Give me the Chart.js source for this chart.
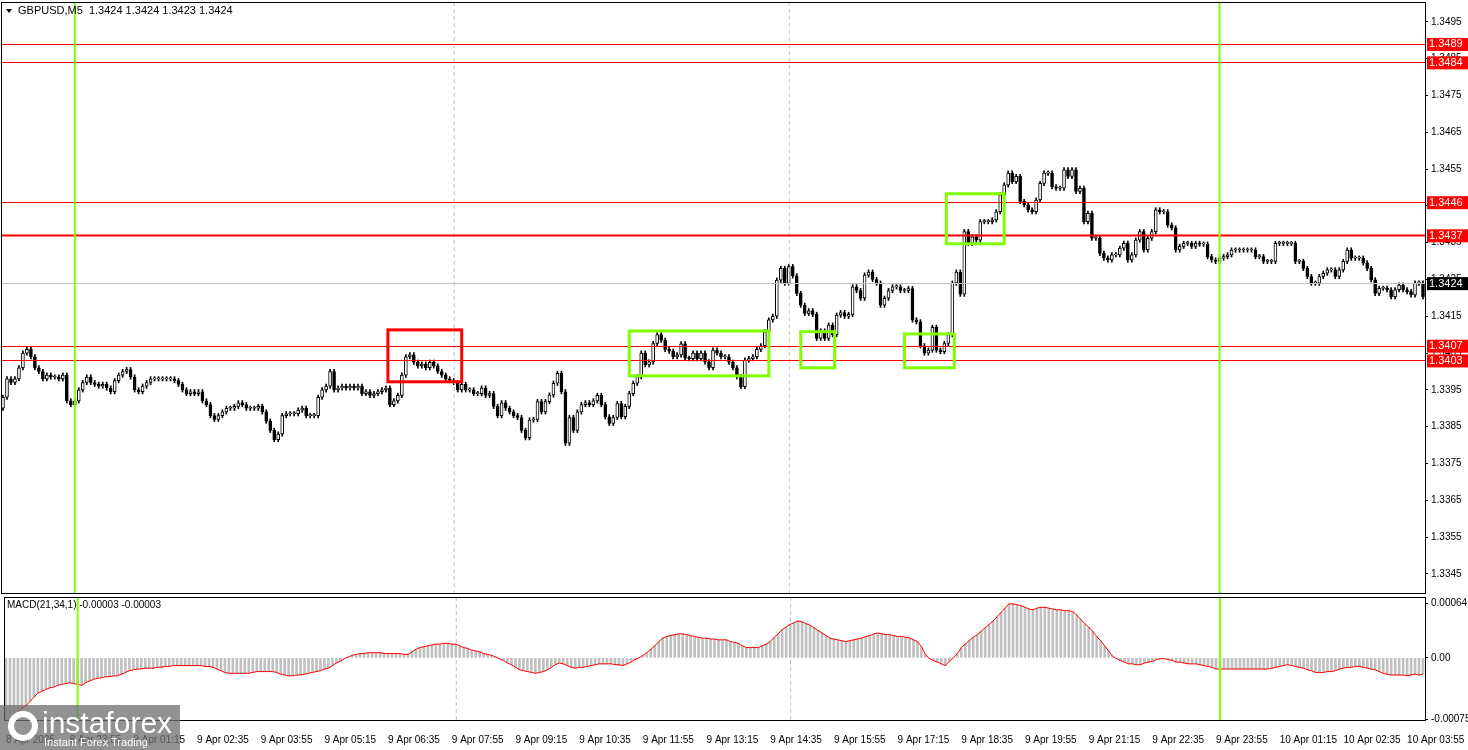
<!DOCTYPE html>
<html>
<head>
<meta charset="utf-8">
<script src="https://cdn.jsdelivr.net/npm/chart.js@4"></script>
<style>
  body { margin: 0; background: #fff; width: 1468px; height: 750px; overflow: hidden; position: relative; font-family: "Liberation Sans", Arial, sans-serif; }
  canvas { position: absolute; left: 0; }
  #main { top: -7px; }
  #macd { top: 588px; }
  #logo { position: absolute; left: 0; top: 705px; width: 180px; height: 45px; background: rgba(110,110,110,0.75); color: #fff; }
  #logo .big { position: absolute; left: 42px; top: 1px; font-size: 30px; letter-spacing: 0px; }
  #logo .small { position: absolute; left: 44px; top: 31px; font-size: 11px; }
  #logo .gear { position: absolute; left: 8px; top: 6px; width: 30px; height: 30px; border-radius: 50%; border: 6px solid #fff; box-sizing: border-box; }
</style>
</head>
<body>
<canvas id="main" width="1468" height="609"></canvas>
<canvas id="macd" width="1468" height="162"></canvas>
<div id="logo"><div class="gear"></div><div class="big">instaforex</div><div class="small">Instant Forex Trading</div></div>
<script>
// closes in pips above 1.3000, one per M5 candle
const closes = [
  393, 398, 397, 398, 401, 405, 406, 404, 401, 400, 398, 399, 398.5, 398.5, 398, 399, 392, 391, 392, 395,
  397, 398.5, 397, 396.5, 396, 396.5, 395.5, 394.5, 397.5, 399, 400, 400.5, 398.5, 395, 394.5, 396, 397, 398, 398, 398,
  398, 398, 398, 397.5, 396.5, 395, 394, 394.5, 394, 394.5, 392, 391, 388, 387, 388, 389, 390, 390, 390.5, 391.5,
  391, 390, 390, 390, 390.5, 389, 386.5, 384, 381.5, 383, 388, 388.5, 388.5, 388.5, 389.5, 390, 388, 388, 388, 393,
  395, 396, 400, 395, 395.5, 396, 395.5, 396, 395.5, 396, 394, 394.5, 393.5, 394, 394.5, 395, 395.5, 391, 392, 393.5,
  399, 404, 404.5, 402.5, 401.5, 402, 401, 402.5, 401.5, 400, 399, 398, 397.5, 397, 395, 396.5, 395, 395, 394, 394,
  395.5, 393.5, 394, 390.5, 388, 391.5, 390, 389, 388, 387.5, 384, 382, 386.8, 387, 391.8, 389, 391.8, 393.6, 396.8, 399.5,
  394.5, 380.5, 387.5, 384, 389, 391, 391.5, 391, 392, 393.5, 391, 387.7, 385.9, 387.5, 391.3, 387.7, 390.5, 394, 396.8, 398.6,
  405, 401.8, 402.6, 407.6, 410, 408.5, 406, 405.5, 404, 404.5, 407.5, 403.6, 403.5, 405, 403.5, 405, 402.6, 401, 405.8, 405,
  404, 404, 402.5, 401, 398.6, 395.9, 403.1, 403.5, 404, 406, 407, 410.8, 414, 415, 424.8, 428, 424, 428.5, 426, 421.2,
  418, 415.8, 416.5, 415.5, 409, 411, 409, 412.6, 410, 415.3, 416, 415, 415.5, 423, 422, 419.9, 426.2, 427, 425, 424,
  418, 419.9, 422, 423, 423, 422, 422, 422.5, 414, 413.5, 407, 405, 405.8, 412, 405.8, 405.4, 407.6, 410, 424, 427,
  421, 438, 434.8, 436.6, 435.7, 440.7, 440.7, 440.7, 441.2, 443.4, 448, 450.7, 453.9, 451.6, 453, 446.2, 445.3, 443.9, 443.4, 446.6,
  451.1, 453.9, 453.9, 450.2, 449.8, 449.8, 454.8, 453, 454.8, 448.9, 449.8, 440.7, 443, 436.2, 436.2, 432.1, 430.8, 430.3, 431.7, 431.7,
  433.5, 434.8, 430.3, 431.7, 435.7, 438, 433, 436.2, 438, 443.9, 443.4, 443.4, 439.8, 439, 433, 434, 434.8, 434.8, 434, 434.8,
  434.6, 434.6, 431.2, 430.3, 429.9, 430.8, 431.2, 431.7, 433, 433, 433, 433, 433, 433, 431.2, 431.2, 429.9, 429.9, 429.9, 434.8,
  434.8, 434.8, 434.8, 434.8, 429.9, 429.9, 428, 425.8, 424, 424, 425.8, 426.7, 427.6, 427.6, 425.8, 427.6, 429.9, 433, 430.8, 430.8,
  430.8, 429.5, 428, 424.9, 421.2, 422.6, 422.6, 422.2, 420.3, 422.2, 423.5, 422.2, 421.7, 420.8, 424, 424, 420.3
];
const firstOpen = 390;

// MACD(21,34,1) histogram, units of 0.00001
const macdVals = [
  -78, -73, -68, -63, -59, -56, -51, -46, -41, -39, -37, -35, -34, -32, -31, -30, -29, -30, -31, -32,
  -29, -27, -25, -24, -23, -22, -22, -21, -21, -19, -17, -15, -14, -13, -13, -12, -12, -12, -11, -11,
  -10, -10, -9, -9, -9, -9, -9, -9, -9, -9, -10, -10, -11, -13, -15, -17, -18, -18, -18, -18,
  -18, -18, -17, -16, -16, -16, -16, -16, -17, -19, -20, -21, -21, -20, -20, -19, -18, -17, -16, -15,
  -13, -12, -9, -6, -4, -1, 1, 3, 4, 5, 5, 6, 6, 6, 6, 5, 5, 5, 5, 5,
  4, 4, 7, 10, 12, 13, 14, 15, 16, 16, 17, 17, 16, 16, 14, 12, 11, 9, 8, 7,
  5, 4, 3, 1, -1, -3, -6, -8, -11, -14, -15, -16, -17, -18, -17, -16, -14, -11, -8, -6,
  -7, -9, -11, -12, -11, -11, -10, -9, -8, -7, -7, -7, -7, -8, -8, -9, -7, -5, -2, 0,
  3, 6, 10, 14, 19, 23, 25, 26, 27, 28, 28, 27, 26, 25, 24, 23, 23, 22, 22, 21,
  21, 21, 19, 18, 17, 14, 12, 12, 12, 12, 14, 16, 19, 24, 28, 33, 36, 39, 41, 43,
  42, 40, 38, 35, 32, 29, 26, 23, 22, 21, 20, 19, 20, 21, 22, 23, 25, 26, 28, 29,
  28, 27, 27, 26, 25, 25, 24, 23, 21, 19, 13, 4, -1, -3, -5, -7, -9, -4, 0, 5,
  12, 16, 20, 24, 27, 31, 35, 39, 43, 48, 53, 58, 63, 63, 62, 61, 59, 57, 56, 58,
  59, 59, 58, 57, 56, 56, 55, 55, 54, 50, 45, 40, 36, 31, 25, 20, 14, 8, 2, -1,
  -3, -5, -7, -7, -8, -8, -6, -5, -4, -2, -1, -1, -2, -3, -5, -5, -6, -7, -7, -7,
  -8, -9, -10, -11, -13, -13, -13, -13, -13, -13, -13, -13, -13, -13, -13, -13, -13, -13, -12, -11,
  -10, -9, -8, -9, -10, -11, -12, -14, -15, -17, -17, -17, -16, -16, -15, -13, -12, -11, -11, -10,
  -10, -11, -12, -13, -14, -16, -18, -19, -20, -20, -20, -20, -21, -20, -19, -20, -19
];

// x tick labels: every 16 candles
const xTickLabels = [
  "8 Apr 2025", "8 Apr 23:55", "9 Apr 01:15", "9 Apr 02:35", "9 Apr 03:55", "9 Apr 05:15", "9 Apr 06:35",
  "9 Apr 07:55", "9 Apr 09:15", "9 Apr 10:35", "9 Apr 11:55", "9 Apr 13:15", "9 Apr 14:35", "9 Apr 15:55",
  "9 Apr 17:15", "9 Apr 18:35", "9 Apr 19:55", "9 Apr 21:15", "9 Apr 22:35", "9 Apr 23:55", "10 Apr 01:15",
  "10 Apr 02:35", "10 Apr 03:55"
];
const priceTicks = [1.3345, 1.3355, 1.3365, 1.3375, 1.3385, 1.3395, 1.3405, 1.3415, 1.3425, 1.3435, 1.3445, 1.3455, 1.3465, 1.3475, 1.3485, 1.3495];
const levels = [1.3489, 1.3484, 1.3446, 1.3437, 1.3407, 1.3403];
const lastPrice = 1.3424;
// boxes: [first candle, last candle, top price, bottom price]
const redBoxes = [[96.5, 115, 1.34113, 1.33972]];
const greenBoxes = [[157, 192, 1.34110, 1.33988], [200, 208.5, 1.34108, 1.34010], [226, 238.5, 1.34102, 1.34010], [236.5, 251, 1.34483, 1.34347]];
const greenVLines = [18, 305];
const dashVLines = [113, 197];

const labels = closes.map((_, i) => i);
const toPrice = (p) => 1.3 + p / 10000;
const opens = closes.map((c, i) => (i ? closes[i - 1] : firstOpen));
const bodies = closes.map((c, i) => [toPrice(opens[i]), toPrice(c)]);
const wicks = closes.map((c, i) => [toPrice(Math.min(c, opens[i]) - 0.6), toPrice(Math.max(c, opens[i]) + 0.6)]);
const bodyColors = closes.map((c, i) => (c >= opens[i] ? "#ffffff" : "#000000"));

const AXIS_W = 43;
const FONT = "11px 'Liberation Sans', Arial, sans-serif";

const mainOverlay = {
  id: "mainOverlay",
  afterDatasetsDraw(chart) {
    const { ctx, chartArea: a, scales: { x, y } } = chart;
    const cx = (i) => x.getPixelForValue(0) + (x.getPixelForValue(1) - x.getPixelForValue(0)) * i;
    ctx.save();
    ctx.setLineDash([4, 3]);
    ctx.lineWidth = 1;
    ctx.strokeStyle = "#c0c0c0";
    dashVLines.forEach((i) => { ctx.beginPath(); ctx.moveTo(cx(i) + 0.5, a.top); ctx.lineTo(cx(i) + 0.5, a.bottom); ctx.stroke(); });
    ctx.setLineDash([]);
    ctx.strokeStyle = "#c0c0c0";
    const yy = Math.round(y.getPixelForValue(lastPrice)) + 0.5;
    ctx.beginPath(); ctx.moveTo(a.left, yy); ctx.lineTo(a.right, yy); ctx.stroke();
    ctx.strokeStyle = "#ff0000";
    levels.forEach((l) => {
      ctx.lineWidth = l === 1.3437 ? 2 : 1;
      const py = Math.round(y.getPixelForValue(l)) + 0.5;
      ctx.beginPath(); ctx.moveTo(a.left, py); ctx.lineTo(a.right, py); ctx.stroke();
    });
    ctx.strokeStyle = "#7fff00";
    ctx.lineWidth = 2;
    greenVLines.forEach((i) => { ctx.beginPath(); ctx.moveTo(cx(i), a.top); ctx.lineTo(cx(i), a.bottom); ctx.stroke(); });
    ctx.lineWidth = 3;
    const box = (b, col) => {
      ctx.strokeStyle = col;
      const x0 = cx(b[0]), x1 = cx(b[1]), y0 = y.getPixelForValue(b[2]), y1 = y.getPixelForValue(b[3]);
      ctx.strokeRect(x0, y0, x1 - x0, y1 - y0);
    };
    redBoxes.forEach((b) => box(b, "#ff0000"));
    greenBoxes.forEach((b) => box(b, "#7fff00"));
    ctx.lineWidth = 1;
    ctx.strokeStyle = "#000";
    ctx.strokeRect(a.left + 0.5, a.top + 0.5, a.right - a.left, a.bottom - a.top);
    ctx.fillStyle = "#000";
    ctx.font = FONT;
    ctx.textBaseline = "middle";
    ctx.textAlign = "left";
    ctx.beginPath(); ctx.moveTo(6, a.top + 7); ctx.lineTo(12, a.top + 7); ctx.lineTo(9, a.top + 11); ctx.closePath(); ctx.fill();
    ctx.fillText("GBPUSD,M5  1.3424 1.3424 1.3423 1.3424", 18, a.top + 9);
    const tag = (v, bg) => {
      const py = y.getPixelForValue(v);
      ctx.fillStyle = bg;
      ctx.fillRect(a.right + 2, py - 6, 42, 13);
      ctx.fillStyle = "#fff";
      ctx.fillText(v.toFixed(4), a.right + 4, py + 0.5);
    };
    levels.forEach((l) => tag(l, "#ff0000"));
    tag(lastPrice, "#000000");
    ctx.restore();
  },
};

new Chart(document.getElementById("main"), {
  type: "bar",
  data: {
    labels,
    datasets: [
      { data: wicks, backgroundColor: "#000", barThickness: 1, grouped: false, order: 2 },
      { data: bodies, backgroundColor: bodyColors, borderColor: "#000", borderWidth: 1, borderSkipped: false, barThickness: 3, minBarLength: 1, grouped: false, order: 1 },
    ],
  },
  options: {
    responsive: false,
    animation: false,
    events: [],
    layout: { padding: { top: 2, bottom: 1, left: 1, right: 0 } },
    plugins: { legend: { display: false }, tooltip: { enabled: false } },
    scales: {
      x: { display: false },
      y: {
        position: "right",
        min: 1.33398,
        max: 1.35004,
        afterBuildTicks: (s) => { s.ticks = priceTicks.map((v) => ({ value: v })); },
        afterFit: (s) => { s.width = AXIS_W; },
        grid: { drawOnChartArea: false, color: "#000", tickLength: 3 },
        border: { color: "#000" },
        ticks: { color: "#000", font: { family: "'Liberation Sans', Arial", size: 10 }, padding: 3, callback: (v) => Number(v).toFixed(4) },
      },
    },
  },
  plugins: [mainOverlay],
});

const macdOverlay = {
  id: "macdOverlay",
  afterDatasetsDraw(chart) {
    const { ctx, chartArea: a, scales: { x } } = chart;
    const cx = (i) => x.getPixelForValue(0) + (x.getPixelForValue(1) - x.getPixelForValue(0)) * i;
    ctx.save();
    ctx.lineWidth = 1;
    ctx.setLineDash([4, 3]);
    ctx.strokeStyle = "#c0c0c0";
    dashVLines.forEach((i) => { ctx.beginPath(); ctx.moveTo(cx(i) + 0.5, a.top); ctx.lineTo(cx(i) + 0.5, a.bottom); ctx.stroke(); });
    ctx.setLineDash([]);
    ctx.strokeStyle = "#7fff00";
    ctx.lineWidth = 2;
    greenVLines.forEach((i) => { ctx.beginPath(); ctx.moveTo(cx(i), a.top); ctx.lineTo(cx(i), a.bottom); ctx.stroke(); });
    ctx.lineWidth = 1;
    ctx.strokeStyle = "#000";
    ctx.strokeRect(a.left + 0.5, a.top + 0.5, a.right - a.left, a.bottom - a.top);
    ctx.fillStyle = "#000";
    ctx.font = "10px 'Liberation Sans', Arial, sans-serif";
    ctx.textBaseline = "middle";
    ctx.fillText("MACD(21,34,1) -0.00003 -0.00003", 7, a.top + 8);
    ctx.restore();
  },
};

new Chart(document.getElementById("macd"), {
  type: "bar",
  data: {
    labels,
    datasets: [
      { type: "line", data: macdVals, borderColor: "#ff0000", borderWidth: 1, pointRadius: 0, order: 1 },
      { data: macdVals, backgroundColor: "#c0c0c0", barThickness: 2, order: 2 },
    ],
  },
  options: {
    responsive: false,
    animation: false,
    events: [],
    layout: { padding: { top: 2, left: 1, right: 0, bottom: 0 } },
    plugins: { legend: { display: false }, tooltip: { enabled: false } },
    scales: {
      x: {
        grid: { display: false },
        border: { display: false },
        ticks: {
          autoSkip: false,
          maxRotation: 0,
          align: "start",
          color: "#000",
          font: { family: "'Liberation Sans', Arial", size: 10 },
          padding: 6,
          callback: (v, i) => (i % 16 === 0 ? xTickLabels[i / 16] || "" : ""),
        },
        afterFit: (s) => { s.height = 30; },
      },
      y: {
        position: "right",
        min: -72.5,
        max: 71,
        afterBuildTicks: (s) => { s.ticks = [{ value: 64 }, { value: 0 }, { value: -72 }]; },
        afterFit: (s) => { s.width = AXIS_W; },
        grid: { drawOnChartArea: false, color: "#000", tickLength: 3 },
        border: { color: "#000" },
        ticks: {
          color: "#000",
          font: { family: "'Liberation Sans', Arial", size: 10 },
          padding: 3,
          callback: (v) => (v === 64 ? "0.00064" : v === 0 ? "0.00" : "-0.00075"),
        },
      },
    },
  },
  plugins: [macdOverlay],
});
</script>
</body>
</html>
